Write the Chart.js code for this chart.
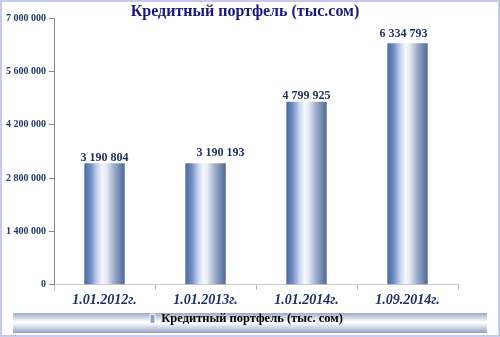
<!DOCTYPE html>
<html><head><meta charset="utf-8">
<script src="https://cdn.jsdelivr.net/npm/chart.js@4/dist/chart.umd.min.js"></script>
<style>html,body{margin:0;padding:0;background:#fff}#wrap{width:500px;height:337px}</style>
</head><body><div id="wrap"><canvas id="c" width="500" height="337"></canvas></div>
<script>
const categories = ['1.01.2012г.', '1.01.2013г.', '1.01.2014г.', '1.09.2014г.'];
const portfolio = [3190804, 3190193, 4799925, 6334793];
const yTicks = [0, 1400000, 2800000, 4200000, 5600000, 7000000];
const seriesName = 'Кредитный портфель (тыс. сом)';
const titleText = 'Кредитный портфель (тыс.сом)';

const SERIF = '"Liberation Serif", "DejaVu Serif", serif';
const fmt = v => String(Math.round(v)).replace(/\B(?=(\d{3})+(?!\d))/g, ' ');

function barGradient(ctx) {
  const chart = ctx.chart;
  const area = chart.chartArea;
  if (!area || ctx.dataIndex === undefined) return '#5d7cab';
  const xs = chart.scales.x;
  const cx = xs.getPixelForValue(ctx.dataIndex);
  const hw = (xs.width / categories.length) * 0.4 / 2;
  const g = chart.ctx.createLinearGradient(cx - hw, 0, cx + hw, 0);
  g.addColorStop(0, '#4a6b9c');
  g.addColorStop(0.15, '#6c8bc0');
  g.addColorStop(0.33, '#c9d6f6');
  g.addColorStop(0.45, '#f6f8ff');
  g.addColorStop(0.55, '#e6eaf2');
  g.addColorStop(0.75, '#98aac8');
  g.addColorStop(1, '#4a6895');
  return g;
}

const framePlugin = {
  id: 'frame',
  beforeDraw(chart) {
    const c = chart.ctx;
    c.save();
    c.fillStyle = '#ffffff';
    c.fillRect(0, 0, chart.width, chart.height);
    const lg = chart.legend;
    if (lg) {
      const mid = (lg.top + lg.bottom) / 2;
      const top = Math.round(mid - 10), bot = top + 20;
      const g = c.createLinearGradient(0, top, 0, bot);
      g.addColorStop(0, '#9aabc5');
      g.addColorStop(0.45, '#ffffff');
      g.addColorStop(0.55, '#f4f6fa');
      g.addColorStop(1, '#8fa2bf');
      c.fillStyle = g;
      c.fillRect(13, top, chart.width - 26, bot - top);
    }
    c.restore();
  },
  afterDraw(chart) {
    const c = chart.ctx;
    c.save();
    c.font = 'bold 16px ' + SERIF;
    c.fillStyle = '#16167e';
    c.textAlign = 'center';
    c.textBaseline = 'middle';
    c.fillText(titleText, 245, 12);
    c.strokeStyle = '#c6c9ef';
    c.lineWidth = 2;
    c.strokeRect(1, 1, chart.width - 2, chart.height - 2);
    c.restore();
  }
};

const valueLabels = {
  id: 'valueLabels',
  afterDatasetsDraw(chart, args, opts) {
    const c = chart.ctx;
    const meta = chart.getDatasetMeta(0);
    c.save();
    c.font = 'bold 12px ' + SERIF;
    c.fillStyle = '#1b2d5c';
    c.textAlign = 'center';
    c.textBaseline = 'alphabetic';
    meta.data.forEach((bar, i) => {
      const s = opts.shift[i] || [0, 0];
      c.fillText(fmt(portfolio[i]), bar.x + s[0], bar.y - 2 + s[1]);
    });
    c.restore();
  }
};

new Chart(document.getElementById('c'), {
  type: 'bar',
  data: {
    labels: categories,
    datasets: [{
      label: seriesName,
      data: portfolio,
      backgroundColor: barGradient,
      borderWidth: 0,
      barPercentage: 0.4,
      categoryPercentage: 1
    }]
  },
  options: {
    responsive: false,
    animation: false,
    devicePixelRatio: 1,
    layout: { padding: { left: 3, right: 10, top: 18, bottom: 2 } },
    scales: {
      x: {
        grid: { display: true, drawOnChartArea: false, drawTicks: true, tickLength: 5, color: '#b5b5b5', offset: true },
        border: { display: true, color: '#c8c8c8' },
        ticks: { color: '#1c2f66', padding: 2, font: { family: SERIF, size: 14, weight: 'bold', style: 'italic' } }
      },
      y: {
        min: 0, max: 7000000,
        afterBuildTicks(axis) { axis.ticks = yTicks.map(v => ({ value: v })); },
        grid: { display: true, drawOnChartArea: false, drawTicks: true, tickLength: 5, color: '#8a8a8a' },
        border: { display: true, color: '#8a8a8a' },
        ticks: { color: '#1f3a6a', padding: 3, font: { family: SERIF, size: 10, weight: 'bold' }, callback: v => fmt(v) }
      },
      yr: {
        position: 'right', min: 0, max: 1,
        grid: { display: false }, border: { display: false },
        ticks: { display: false },
        afterFit(axis) { axis.width = 32; }
      }
    },
    plugins: {
      title: { display: false },
      legend: {
        display: true, position: 'bottom',
        labels: {
          color: '#1b2a5a', boxWidth: 5, boxHeight: 9, padding: 2,
          font: { family: SERIF, size: 12.5, weight: 'bold' },
          generateLabels: () => [{ text: seriesName, fillStyle: '#8fa2c4', strokeStyle: '#ffffff', lineWidth: 1, datasetIndex: 0 }]
        }
      },
      tooltip: { enabled: false },
      valueLabels: { shift: [[0, 0], [15, -5], [0, -1], [-4, -4]] }
    }
  },
  plugins: [framePlugin, valueLabels]
});
</script>
</body></html>
